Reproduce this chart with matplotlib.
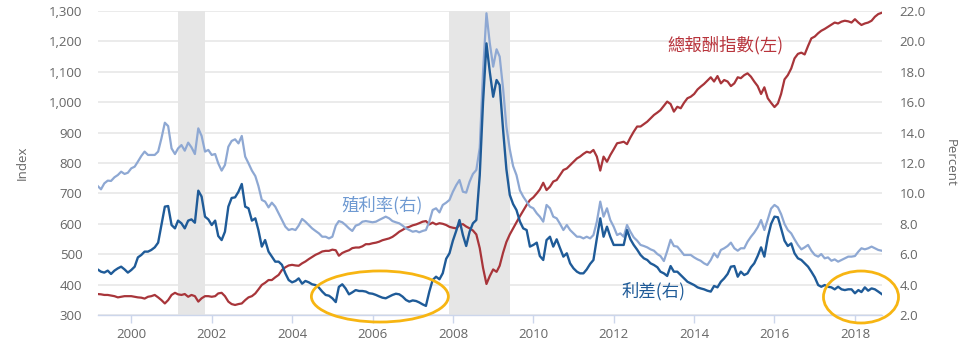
import matplotlib
matplotlib.use("Agg")
import matplotlib.pyplot as plt
import matplotlib.dates as mdates
from matplotlib.patches import Ellipse
from matplotlib.ticker import FuncFormatter, FixedLocator
import pandas as pd

plt.rcParams["font.family"] = ["Open Sans", "Noto Sans CJK TC", "DejaVu Sans"]

# Monthly observations, March 1999 - September 2018
start_month = "1999-03-01"

# High-yield total return index (left axis)
total_return = [
    369, 368, 366, 366, 364, 362, 358, 360, 362, 362,                      # 1999
    362, 360, 358, 357, 354, 360, 362, 366, 358, 349, 338, 349,            # 2000
    366, 373, 368, 366, 369, 360, 366, 362, 344, 355, 362, 362,            # 2001
    360, 362, 371, 373, 362, 344, 336, 333, 336, 338, 349, 358,            # 2002
    362, 371, 384, 399, 406, 415, 415, 424, 432, 448, 457, 463,            # 2003
    465, 463, 462, 470, 476, 484, 491, 498, 503, 509, 511, 511,            # 2004
    515, 513, 495, 504, 509, 513, 520, 522, 522, 526, 533, 533,            # 2005
    536, 538, 541, 546, 549, 552, 557, 565, 574, 580, 587, 590,            # 2006
    595, 598, 602, 607, 609, 598, 604, 598, 602, 600, 596, 590,            # 2007
    587, 585, 596, 599, 591, 585, 578, 565, 520, 455, 402, 428,            # 2008
    450, 442, 462, 505, 540, 565, 585, 605, 625, 643, 662, 678,            # 2009
    687, 700, 713, 735, 711, 722, 739, 744, 761, 777, 782, 793,            # 2010
    804, 815, 821, 830, 837, 834, 843, 821, 775, 821, 804, 826,            # 2011
    845, 865, 867, 870, 862, 884, 903, 920, 920, 928, 936, 947,            # 2012
    958, 966, 974, 988, 1002, 994, 969, 985, 980, 998, 1013, 1018,         # 2013
    1027, 1042, 1051, 1060, 1071, 1082, 1068, 1086, 1062, 1073, 1068, 1053,  # 2014
    1062, 1082, 1079, 1089, 1095, 1084, 1068, 1053, 1027, 1049, 1013, 998,   # 2015
    984, 996, 1027, 1075, 1089, 1111, 1144, 1159, 1163, 1157, 1185, 1210,    # 2016
    1216, 1227, 1235, 1241, 1248, 1255, 1262, 1259, 1265, 1268, 1266, 1262,  # 2017
    1273, 1262, 1254, 1259, 1262, 1268, 1281, 1290, 1294,                    # 2018
]

# Yield to worst, percent (right axis)
yield_pct = [
    10.49, 10.27, 10.66, 10.84, 10.82, 11.06, 11.21, 11.43, 11.28, 11.36,
    11.65, 11.76, 12.09, 12.46, 12.75, 12.53, 12.53, 12.53, 12.75, 13.62, 14.65, 14.43,
    12.96, 12.59, 12.96, 13.18, 12.81, 13.34, 13.03, 12.59, 14.28, 13.78, 12.75, 12.86,
    12.53, 12.59, 11.98, 11.50, 11.87, 13.07, 13.45, 13.56, 13.29, 13.78, 12.42, 11.98,
    11.50, 11.14, 10.49, 9.57, 9.46, 9.08, 9.39, 9.13, 8.69, 8.25, 7.81, 7.59,
    7.66, 7.59, 7.88, 8.32, 8.14, 7.92, 7.70, 7.53, 7.37, 7.15, 7.15, 7.04,
    7.15, 7.88, 8.18, 8.10, 7.92, 7.70, 7.53, 7.88, 7.96, 8.14, 8.18, 8.14,
    8.10, 8.14, 8.25, 8.36, 8.47, 8.36, 8.18, 8.10, 8.03, 7.88, 7.70, 7.59,
    7.48, 7.53, 7.44, 7.53, 7.59, 8.14, 8.91, 9.02, 8.75, 9.24, 9.39, 9.57,
    10.11, 10.55, 10.88, 10.11, 10.05, 10.77, 11.28, 11.54, 13.0, 18.0, 21.85, 19.9,
    18.34, 19.48, 19.0, 16.9, 14.4, 12.9, 11.8, 11.2, 10.2, 9.79, 9.46, 9.13,
    9.02, 8.69, 8.47, 8.14, 9.24, 9.02, 8.47, 8.36, 7.99, 7.59, 7.92, 7.59,
    7.37, 7.15, 7.15, 7.04, 7.15, 7.04, 7.26, 8.14, 9.46, 8.47, 9.02, 8.25,
    7.81, 7.26, 7.37, 7.15, 7.92, 7.48, 7.11, 6.89, 6.61, 6.54, 6.45, 6.32,
    6.23, 6.01, 5.88, 5.55, 6.20, 6.95, 6.54, 6.50, 6.23, 5.95, 5.95, 5.95,
    5.79, 5.66, 5.57, 5.40, 5.29, 5.62, 6.06, 5.79, 6.28, 6.39, 6.54, 6.76,
    6.39, 6.23, 6.39, 6.39, 6.82, 7.15, 7.42, 7.77, 8.25, 7.59, 8.29, 9.00,
    9.24, 9.08, 8.64, 7.99, 7.59, 7.37, 6.98, 6.61, 6.32, 6.45, 6.61, 6.23,
    5.95, 5.84, 6.01, 5.73, 5.79, 5.57, 5.66, 5.51, 5.62, 5.73, 5.84, 5.84,
    5.88, 6.17, 6.39, 6.32, 6.39, 6.50, 6.39, 6.28, 6.23,
]

# Spread over Treasuries, percent (right axis)
spread_pct = [
    5.00, 4.85, 4.79, 4.92, 4.70, 4.92, 5.07, 5.18, 5.00, 4.79,
    4.96, 5.18, 5.79, 5.95, 6.17, 6.17, 6.28, 6.45, 6.76, 7.92, 9.13, 9.17,
    7.92, 7.70, 8.21, 8.03, 7.70, 8.21, 8.29, 8.07, 10.18, 9.79, 8.47, 8.29,
    7.92, 8.21, 7.20, 6.93, 7.48, 9.13, 9.70, 9.74, 10.11, 10.62, 9.13, 9.02,
    8.21, 8.36, 7.59, 6.50, 6.93, 6.17, 5.84, 5.51, 5.51, 5.30, 4.74, 4.30,
    4.15, 4.24, 4.41, 4.06, 4.24, 4.15, 4.02, 3.97, 3.80, 3.54, 3.32, 3.27,
    3.10, 2.85, 3.85, 4.02, 3.75, 3.36, 3.49, 3.64, 3.58, 3.58, 3.54, 3.43,
    3.40, 3.32, 3.23, 3.14, 3.10, 3.21, 3.32, 3.40, 3.36, 3.21, 2.99, 2.88,
    2.96, 2.92, 2.83, 2.70, 2.60, 3.54, 4.30, 4.52, 4.35, 4.75, 5.70, 6.06,
    6.89, 7.55, 8.25, 7.26, 6.54, 7.48, 8.03, 8.25, 11.2, 16.0, 19.87, 18.01,
    16.36, 17.46, 17.13, 14.2, 11.6, 9.9, 9.3, 8.9, 8.15, 7.70, 7.59, 6.50,
    6.61, 6.76, 5.88, 5.62, 6.93, 7.15, 6.50, 6.98, 6.39, 5.84, 6.06, 5.40,
    5.07, 4.85, 4.74, 4.74, 5.00, 5.36, 5.62, 7.04, 8.36, 7.15, 7.81, 7.15,
    6.61, 6.61, 6.61, 6.61, 7.59, 6.98, 6.61, 6.30, 5.95, 5.73, 5.62, 5.40,
    5.29, 5.14, 4.85, 4.74, 4.57, 5.22, 4.85, 4.85, 4.63, 4.41, 4.19, 4.08,
    3.97, 3.82, 3.75, 3.69, 3.60, 3.54, 3.91, 3.82, 4.19, 4.41, 4.70, 5.18,
    5.22, 4.52, 4.85, 4.63, 4.74, 5.14, 5.40, 5.88, 6.45, 5.84, 7.11, 7.99,
    8.47, 8.43, 7.70, 6.89, 6.54, 6.71, 6.06, 5.73, 5.62, 5.40, 5.18, 4.85,
    4.48, 3.97, 3.86, 3.97, 3.86, 3.82, 3.69, 3.86, 3.69, 3.64, 3.69, 3.69,
    3.43, 3.64, 3.51, 3.82, 3.60, 3.75, 3.69, 3.54, 3.38,
]

recessions = [("2001-03-01", "2001-11-01"), ("2007-12-01", "2009-06-01")]

left_ticks = list(range(300, 1301, 100))
right_ticks = [2, 4, 6, 8, 10, 12, 14, 16, 18, 20, 22]

months = pd.date_range(start_month, periods=len(total_return), freq="MS")

RED = "#a8353a"
LIGHT = "#8ea8d3"
DARK = "#1f5b98"
GRID = "#e6e6e6"
AXIS = "#ccd6eb"
LABEL = "#666666"
ORANGE = "#f7b512"

fig = plt.figure(figsize=(9.75, 3.48), dpi=100)
ax = fig.add_axes([0.1001, 0.0948, 0.8042, 0.8736])
ax2 = ax.twinx()

# recession bands
for a, b in recessions:
    ax.axvspan(pd.Timestamp(a), pd.Timestamp(b), color="#e6e6e6", lw=0, zorder=1)

ax.plot(months, total_return, color=RED, lw=1.6, zorder=3, solid_joinstyle="round")
ax2.plot(months, yield_pct, color=LIGHT, lw=1.6, zorder=3, solid_joinstyle="round")
ax2.plot(months, spread_pct, color=DARK, lw=1.7, zorder=4, solid_joinstyle="round")

ax.set_xlim(months[0], months[-1])
ax.set_ylim(left_ticks[0], left_ticks[-1])
ax2.set_ylim(right_ticks[0], right_ticks[-1])

ax.yaxis.set_major_locator(FixedLocator(left_ticks))
ax.yaxis.set_major_formatter(FuncFormatter(lambda v, p: f"{int(v):,}"))
ax2.yaxis.set_major_locator(FixedLocator(right_ticks))
ax2.yaxis.set_major_formatter(FuncFormatter(lambda v, p: f"{v:.1f}"))

ax.xaxis.set_major_locator(mdates.YearLocator(2))
ax.xaxis.set_major_formatter(mdates.DateFormatter("%Y"))

ax.set_axisbelow(True)
ax.yaxis.grid(True, color=GRID, lw=1.1)
for a in (ax, ax2):
    for s in ("top", "left", "right"):
        a.spines[s].set_visible(False)
    a.spines["bottom"].set_visible(False)
ax.spines["bottom"].set_visible(True)
ax.spines["bottom"].set_color(AXIS)
ax.spines["bottom"].set_linewidth(1.0)
ax.spines["bottom"].set_zorder(5)

ax.tick_params(axis="y", length=0, labelsize=9.5, labelcolor=LABEL, pad=11)
ax2.tick_params(axis="y", length=0, labelsize=9.5, labelcolor=LABEL, pad=13)
ax.tick_params(axis="x", length=6, width=1, color=AXIS, labelsize=9.5,
               labelcolor=LABEL, pad=3)

fig.text(22 / 975, 1 - 163 / 348, "Index", rotation=90, ha="center", va="center",
         fontsize=9.5, color=LABEL)
fig.text(950 / 975, 1 - 163 / 348, "Percent", rotation=270, ha="center", va="center",
         fontsize=9.5, color=LABEL)

cjk = ["Noto Sans CJK TC", "DejaVu Sans"]
ax.text(0.8008, 0.886, "總報酬指數(左)", transform=ax.transAxes, ha="center",
        va="center", fontsize=12.5, color="#b8343c", family=cjk, zorder=6)
ax.text(0.3633, 0.362, "殖利率(右)", transform=ax.transAxes, ha="center",
        va="center", fontsize=12.5, color="#6f9ad2", family=cjk, zorder=6)
ax.text(0.7096, 0.0773, "利差(右)", transform=ax.transAxes, ha="center",
        va="center", fontsize=12.5, color=DARK, family=cjk, zorder=6)

for cx, cy, w, h in [(0.360, 0.0609, 0.1747, 0.168), (0.9736, 0.0592, 0.0957, 0.171)]:
    ax2.add_patch(Ellipse((cx, cy), w, h, transform=ax.transAxes, fill=False,
                          edgecolor=ORANGE, lw=2.0, clip_on=False, zorder=7))

fig.savefig("out.png", dpi=100, facecolor="white")
